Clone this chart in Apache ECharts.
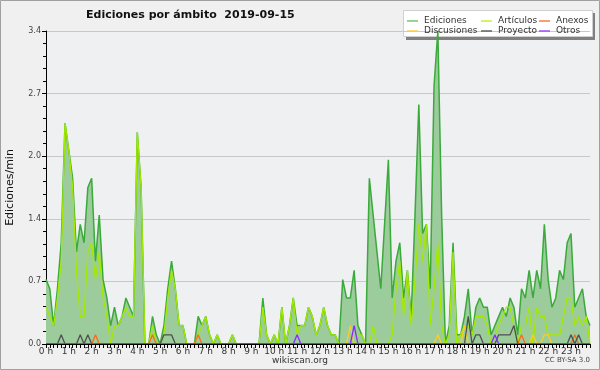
<!DOCTYPE html>
<html><head><meta charset="utf-8">
<script src="https://cdn.jsdelivr.net/npm/echarts@6/dist/echarts.min.js"></script>
<style>html,body{margin:0;padding:0;background:#f0f0f0}#c{width:600px;height:370px}</style>
</head><body><div id="c"></div>
<script>
const hourLabels = ['0 h','1 h','2 h','3 h','4 h','5 h','6 h','7 h','8 h','9 h','10 h','11 h','12 h','13 h','14 h','15 h','16 h','17 h','18 h','19 h','20 h','21 h','22 h','23 h'];
const yTickLabels = ['0.0','0.7','1.4','2.0','2.7','3.4'];
// 10-minute slots of the day
const categories = [];
for (let h = 0; h < 24; h++) for (let m = 0; m < 60; m += 10) categories.push(h + ':' + (m < 10 ? '0' : '') + m);

const ediciones = [
0.7,0.6,0.2,0.6,1.1,2.4,2.1,1.8,1.0,1.3,1.1,1.7,1.8,0.9,1.4,0.7,0.5,0.2,0.4,0.2,0.3,0.5,0.4,0.3,
2.3,1.7,0,0,0.3,0.1,0,0.2,0.6,0.9,0.6,0.2,0.2,0,0,0,0.3,0.2,0.3,0.1,0,0.1,0,0,
0,0.1,0,0,0,0,0,0,0,0.5,0.1,0,0.1,0,0.4,0,0.2,0.5,0.2,0.2,0.2,0.4,0.3,0.1,
0.2,0.4,0.2,0.1,0.1,0,0.7,0.5,0.5,0.8,0.2,0.1,0,1.8,1.4,1.0,0.6,1.3,2.0,0.5,0.9,1.1,
0.5,0.8,0.3,1.4,2.6,1.2,1.3,0.6,2.8,3.4,1.4,0,0.2,1.1,0.1,0.1,0.3,0.6,0.1,0.4,0.5,0.4,
0.4,0.1,0.2,0.3,0.4,0.3,0.5,0.4,0.1,0.6,0.5,0.8,0.5,0.8,0.6,1.3,0.7,0.4,0.5,0.8,0.7,1.1,
1.2,0.4,0.5,0.6,0.3,0.2];
const articulos = [
0.4,0.3,0.2,0.5,0.9,2.4,2.1,1.7,0.8,0.3,0.3,1.0,1.1,0.7,1.0,0.5,0.3,0,0.2,0.2,0.3,0.4,0.3,0.3,
2.3,1.7,0,0,0.2,0,0,0.1,0.5,0.8,0.6,0.2,0.2,0,0,0,0.1,0.2,0.3,0.1,0,0.1,0,0,
0,0.1,0,0,0,0,0,0,0,0.4,0.1,0,0.1,0,0.4,0,0.2,0.5,0.1,0.2,0.2,0.4,0.3,0.1,
0.2,0.4,0.2,0.1,0.1,0,0,0,0,0,0.1,0.1,0,0,0.2,0,0,0,0,0.1,0.6,0.9,
0.3,0.8,0.2,0.7,1.3,0.9,1.3,0.2,0.6,1.1,0.2,0,0.1,1.0,0,0.1,0.2,0.2,0.1,0.3,0.3,0.3,
0.2,0,0.1,0.2,0.3,0.4,0.4,0.2,0,0.2,0.2,0.4,0,0.4,0.3,0.3,0.1,0.1,0.1,0.1,0.3,0.5,
0.5,0.2,0.3,0.2,0.3,0];
// sparse series: [slot index, value]
const anexosPts = [[13,0.1],[28,0.1],[40,0.1],[125,0.1],[139,0.1]];
const discusionesPts = [[80,0.2],[103,0.1],[110,0.2],[128,0.1],[131,0.1],[132,0.1]];
const proyectoPts = [[4,0.1],[9,0.1],[11,0.1],[31,0.1],[32,0.1],[33,0.1],[111,0.3],[113,0.1],[114,0.1],[119,0.1],[120,0.1],[121,0.1],[122,0.1],[123,0.2],[138,0.1],[140,0.1]];
const otrosPts = [[66,0.1],[81,0.2],[118,0.1]];

function expand(pts){ const a = categories.map(()=>0); pts.forEach(p=>{a[p[0]]=p[1];}); return a; }

const colors = {Ediciones:'#3aaa3a',Discusiones:'#ffcc22','Artículos':'#a4ea00',Proyecto:'#505050',Anexos:'#ff6a1a',Otros:'#8a2cff'};
const legendColors = {Ediciones:'#6cc86c',Discusiones:'#ffd040','Artículos':'#c4f030',Proyecto:'#606060',Anexos:'#ff7a40',Otros:'#9a50ff'};

const FF = 'DejaVu Sans';
function lineSeries(name, data, extra){
  return Object.assign({name, type:'line', data, symbol:'none', smooth:false, animation:false,
    lineStyle:{color:colors[name], width:1.3}, itemStyle:{color:legendColors[name]}}, extra||{});
}
const chart = echarts.init(document.getElementById('c'), null, {renderer:'canvas'});
const legendBase = {orient:'vertical', top:16, padding:0, itemWidth:11, itemHeight:1.5, itemGap:0, icon:'rect', z:50,
  textStyle:{fontFamily:FF, fontSize:9, lineHeight:10, color:'#333', padding:[0,0,0,1]}, selectedMode:false};
chart.setOption({
  backgroundColor:'#f0f0f0',
  animation:false,
  title:{text:'Ediciones por ámbito  2019-09-15', left:86, top:10, padding:0,
    textStyle:{fontFamily:FF, fontSize:11, fontWeight:'bold', color:'#111'}},
  legend:[
    Object.assign({}, legendBase, {left:407, data:['Ediciones','Discusiones']}),
    Object.assign({}, legendBase, {left:481, data:['Artículos','Proyecto']}),
    Object.assign({}, legendBase, {left:539, data:['Anexos','Otros']})
  ],
  grid:{left:46, right:10, top:31, bottom:26, show:true, backgroundColor:'#eef0f2', borderWidth:0, outerBoundsMode:'none', containLabel:false},
  xAxis:{type:'category', data:categories, boundaryGap:false, z:20,
    axisLine:{lineStyle:{color:'#000', width:1}},
    axisTick:{show:true, interval:0, length:4, lineStyle:{color:'#000'}},
    axisLabel:{interval:(i)=>i%6===0, formatter:(v,i)=>hourLabels[Math.floor(i/6)], fontFamily:FF, fontSize:9, color:'#333', margin:3},
    splitLine:{show:false}},
  yAxis:{type:'value', min:0, max:3.4, interval:0.68,
    name:'Ediciones/min', nameLocation:'middle', nameRotate:90, nameGap:30,
    nameTextStyle:{fontFamily:FF, fontSize:11, color:'#111'},
    axisLine:{show:true, lineStyle:{color:'#000', width:1}},
    axisTick:{show:true, length:4, lineStyle:{color:'#000'}},
    minorTick:{show:true, splitNumber:5, length:3, lineStyle:{color:'#000'}},
    axisLabel:{formatter:(v)=>yTickLabels[Math.round(v/0.68)]||v.toFixed(1), fontFamily:FF, fontSize:8, color:'#444', margin:5},
    splitLine:{show:true, lineStyle:{color:'#c8c8c8', width:1}}},
  graphic:{z:40, elements:[
    {type:'rect', shape:{x:0.5,y:0.5,width:599,height:369}, style:{fill:null, stroke:'#a0a0a0', lineWidth:1}, silent:true},
    {type:'rect', shape:{x:406,y:13,width:189,height:27}, style:{fill:'#808080'}, silent:true},
    {type:'rect', shape:{x:403.5,y:10.5,width:189,height:26}, style:{fill:'#ffffff', stroke:'#d0d0d0', lineWidth:1}, silent:true},
    {type:'text', left:'center', top:356, style:{text:'wikiscan.org', font:'9px '+FF, fill:'#333'}},
    {type:'text', right:10, top:357, style:{text:'CC BY-SA 3.0', font:'7px '+FF, fill:'#444'}}
  ]},
  series:[
    lineSeries('Ediciones', ediciones, {lineStyle:{color:colors.Ediciones, width:1.5}, areaStyle:{color:'#9ccb9c', opacity:1}, z:2}),
    lineSeries('Artículos', articulos, {z:3}),
    lineSeries('Discusiones', expand(discusionesPts), {z:4}),
    lineSeries('Anexos', expand(anexosPts), {z:4}),
    lineSeries('Proyecto', expand(proyectoPts), {z:4}),
    lineSeries('Otros', expand(otrosPts), {z:4})
  ]
});
</script></body></html>
